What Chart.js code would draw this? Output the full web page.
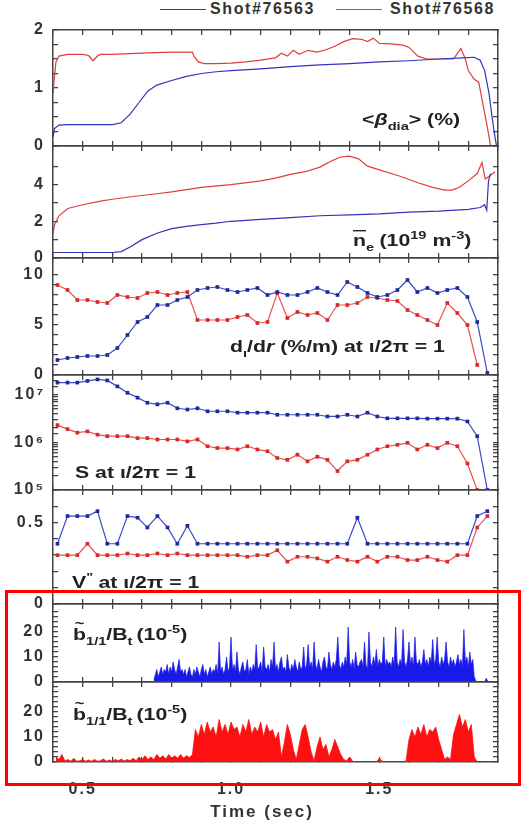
<!DOCTYPE html>
<html>
<head>
<meta charset="utf-8">
<script src="https://cdn.jsdelivr.net/npm/chart.js@4.4.1/dist/chart.umd.min.js"></script>
<style>
  body { margin: 0; background: #fff; }
  #fig { position: relative; width: 523px; height: 829px; overflow: hidden; font-family: "Liberation Sans", Arial, sans-serif; }
  #fig canvas { position: absolute; left: 0; }
  .legLine { position: absolute; top: 9px; width: 46px; height: 0; }
  .legText { position: absolute; top: 0; font-weight: bold; font-size: 16px; line-height: 18px; letter-spacing: 1.6px; color: #333; }
  #mark { position: absolute; left: 5px; top: 590px; width: 516px; height: 196px; box-sizing: border-box; border: 3px solid #f00; }
</style>
</head>
<body>
<div id="fig">
  <div class="legLine" style="left:160px;border-top:1.5px solid #3333bb"></div>
  <div class="legText" style="left:210px">Shot#76563</div>
  <div class="legLine" style="left:336px;border-top:1.5px solid #e03c3c"></div>
  <div class="legText" style="left:390px">Shot#76568</div>
  <canvas id="p1"></canvas>
  <canvas id="p2"></canvas>
  <canvas id="p3"></canvas>
  <canvas id="p4"></canvas>
  <canvas id="p5"></canvas>
  <canvas id="p6"></canvas>
  <canvas id="p7"></canvas>
  <div id="mark"></div>
</div>
<script>
// time axis labels (sec)
const xLabelVals = [0.5, 1.0, 1.5];

// <beta_dia> (%)
const betaT63 = [0.40,0.405,0.42,0.45,0.50,0.55,0.60,0.63,0.66,0.69,0.72,0.75,0.80,0.85,0.90,0.95,1.00,1.10,1.20,1.30,1.40,1.50,1.60,1.70,1.78,1.82,1.84,1.855,1.87,1.88,1.89,1.895];
const betaV63 = [0.15,0.3,0.36,0.37,0.37,0.37,0.37,0.4,0.55,0.75,0.95,1.05,1.13,1.2,1.25,1.28,1.3,1.33,1.37,1.4,1.42,1.45,1.47,1.5,1.52,1.53,1.48,1.3,0.9,0.5,0.15,0];
const betaT68 = [0.40,0.405,0.41,0.42,0.45,0.50,0.52,0.535,0.55,0.56,0.60,0.70,0.80,0.87,0.875,0.89,0.91,0.95,1.00,1.05,1.10,1.15,1.17,1.19,1.21,1.23,1.26,1.29,1.32,1.35,1.38,1.41,1.44,1.46,1.48,1.50,1.54,1.58,1.60,1.63,1.66,1.70,1.75,1.775,1.79,1.80,1.82,1.835,1.85,1.865,1.875];
const betaV68 = [0.9,1.2,1.45,1.55,1.58,1.58,1.56,1.47,1.55,1.58,1.58,1.6,1.62,1.62,1.55,1.45,1.42,1.42,1.43,1.45,1.48,1.52,1.6,1.55,1.65,1.58,1.65,1.62,1.66,1.72,1.8,1.85,1.84,1.8,1.86,1.77,1.76,1.74,1.7,1.55,1.5,1.5,1.5,1.68,1.5,1.3,1.15,1.1,0.7,0.3,0];

// line averaged density (1e19 m^-3)
const neT63 = [0.40,0.45,0.50,0.55,0.60,0.63,0.66,0.70,0.75,0.80,0.85,0.90,0.95,1.00,1.10,1.20,1.30,1.40,1.50,1.60,1.70,1.80,1.84,1.855,1.862,1.868,1.875];
const neV63 = [0.3,0.3,0.3,0.3,0.3,0.35,0.6,1.0,1.35,1.6,1.72,1.82,1.9,2.0,2.1,2.2,2.3,2.35,2.4,2.5,2.55,2.65,2.75,2.9,2.6,4.2,4.6];
const neT68 = [0.40,0.405,0.42,0.45,0.50,0.56,0.60,0.67,0.75,0.80,0.90,1.00,1.10,1.15,1.20,1.25,1.30,1.34,1.37,1.40,1.43,1.46,1.50,1.57,1.63,1.68,1.72,1.745,1.77,1.80,1.83,1.846,1.857,1.87,1.89];
const neV68 = [1.3,1.8,2.3,2.7,2.9,3.1,3.2,3.35,3.5,3.6,3.85,4.0,4.2,4.35,4.55,4.7,4.95,5.3,5.5,5.55,5.4,5.0,4.8,4.45,4.1,3.85,3.7,3.7,3.85,4.2,4.6,5.2,4.3,4.45,4.7];

// profile quantities at iota/2pi = 1
const tProf = [0.415,0.449,0.482,0.516,0.550,0.583,0.617,0.651,0.685,0.718,0.752,0.786,0.819,0.853,0.887,0.921,0.954,0.988,1.022,1.055,1.089,1.123,1.156,1.190,1.224,1.258,1.291,1.325,1.359,1.392,1.426,1.460,1.493,1.527,1.561,1.595,1.628,1.662,1.696,1.729,1.763,1.797,1.830,1.864];
const diotaV63 = [1.5,1.7,1.8,1.9,1.9,2.0,2.7,4.0,5.3,5.8,7.0,7.0,7.5,7.8,8.5,8.7,8.8,8.5,8.3,8.5,8.7,8.0,8.3,8.0,8.0,8.3,8.7,8.3,8.0,9.3,8.8,8.2,7.8,8.0,8.5,9.5,8.3,8.7,8.2,8.5,8.7,7.8,5.3,0.2];
const diotaV68 = [9.0,8.5,7.5,7.5,7.3,7.2,8.0,7.8,7.7,8.2,8.3,8.0,8.2,8.3,5.5,5.5,5.5,5.5,5.8,6.0,5.2,5.3,8.2,5.7,6.3,6.0,6.2,5.5,7.0,7.0,7.2,7.8,7.7,7.5,7.4,6.5,6.0,5.5,5.0,7.2,6.2,5.0,1.0,null];
const sV63 = [1.8e7,1.8e7,1.8e7,1.95e7,2.1e7,2.0e7,1.5e7,1.1e7,8.7e6,6.8e6,6.3e6,6.8e6,5.2e6,4.9e6,5.2e6,4.5e6,4.5e6,4.5e6,4.2e6,4.2e6,4.2e6,4.2e6,3.8e6,3.8e6,3.8e6,3.8e6,3.8e6,3.5e6,3.5e6,3.8e6,3.5e6,4.2e6,3.5e6,3.2e6,3.2e6,3.2e6,3.2e6,3.15e6,3.15e6,3.15e6,3.15e6,2.75e6,1.35e6,1.0e5];
const sV68 = [2.3e6,1.9e6,1.6e6,1.7e6,1.45e6,1.35e6,1.35e6,1.35e6,1.23e6,1.23e6,1.15e6,1.15e6,1.15e6,1.05e6,1.15e6,8.3e5,7.6e5,7.6e5,7.1e5,8.3e5,7.1e5,6.5e5,4.7e5,4.3e5,5.5e5,4.0e5,5.0e5,4.3e5,2.5e5,4.0e5,4.3e5,5.5e5,7.1e5,8.3e5,8.9e5,9.8e5,7.1e5,8.9e5,7.6e5,9.8e5,8.3e5,3.6e5,1.0e5,null];
const vppV63 = [0.37,0.54,0.54,0.54,0.57,0.37,0.37,0.54,0.53,0.47,0.54,0.47,0.37,0.48,0.37,0.37,0.37,0.37,0.37,0.37,0.37,0.37,0.37,0.37,0.37,0.37,0.37,0.37,0.37,0.37,0.53,0.37,0.37,0.37,0.37,0.37,0.37,0.37,0.37,0.37,0.37,0.37,0.54,0.57];
const vppV68 = [0.30,0.30,0.30,0.37,0.30,0.30,0.30,0.31,0.30,0.30,0.31,0.30,0.31,0.30,0.30,0.30,0.30,0.30,0.30,0.29,0.30,0.30,0.33,0.26,0.29,0.29,0.28,0.26,0.29,0.27,0.26,0.29,0.26,0.29,0.29,0.27,0.27,0.29,0.27,0.26,0.30,0.30,0.47,0.54];

// magnetic fluctuation amplitude (1e-5)
// shot 76563: sampled every 5 ms from 0.74 s
const bStart63 = 0.74, bStep63 = 0.005;
const bFluc63 = [
  1,3,5,2,4,6,3,5,4,7,   3,6,4,8,5,3,6,9,4,5,   3,5,2,4,6,3,2,5,3,6,   4,2,5,7,3,5,2,4,6,3,
  5,4,7,3,16,4,6,3,5,10, 4,6,18,5,7,4,12,5,3,6, 8,4,5,9,3,6,4,7,5,15,  5,6,8,4,14,6,5,7,4,9,
  6,16,5,7,4,8,10,5,6,4, 11,6,4,7,5,9,6,4,8,5,  6,14,5,7,15,6,8,5,16,7, 5,9,6,4,8,10,6,5,12,7,
  5,8,6,9,18,7,5,8,6,10, 7,22,8,6,9,5,12,7,6,8,  9,6,16,7,5,20,8,6,10,7, 13,6,9,7,8,18,6,9,7,8,
  6,10,7,22,8,6,9,7,21,8, 6,9,16,7,10,6,18,8,7,9, 6,8,13,7,9,6,10,8,17,7, 9,18,8,6,10,7,9,16,8,6,
  10,7,9,6,8,11,7,9,6,21, 8,10,6,12,7,9,2,0.5,0,0, 0,0,0,0,1.5,0.5,0,0,0,0];
// shot 76568: sampled every 10 ms from 0.41 s
const bStart68 = 0.41, bStep68 = 0.01;
const bFluc68 = [2,1,3,0.5,1,0.3,1.5,0.3,0.5,1,0.3,0.8,0.3,1,0.3,0.5,1.2,0.3,0.8,0.3,1,0.5,1.2,0.4,1,0.5,1.5,0.5,2,0.8,2.5,1,2,1,3,1.5,2.5,1.2,3,1.5,2.5,1.5,3,1.5,2.5,1.8,3,
  13,10,15,11,16,12,14,10,17,12,15,11,16,13,14,10,15,12,17,11,14,12,16,10,15,12,13,9,12,
  2,8,15,11,5,1,7,13,15,10,4,0.5,6,10,5,7,2,5,9,6,3,1,
  0.5,2,0.3,0,0,0,0,0,0,0,0,1.5,0.3,0,0,0,0,0,0,0,0.5,
  9,13,10,14,11,15,10,13,12,14,9,5,1,2,1,11,15,19,14,17,12,15,2,0];

// y tick labels for each panel
const yLabels1 = [0, 1, 2];
const yLabels2 = [0, 2, 4];
const yLabels3 = [0, 5, 10];
const sTickVals = [1e5, 1e6, 1e7];
const sTickText = ['10\u2075', '10\u2076', '10\u2077'];
const yLabels5 = [0, 0.5];
const yLabels6 = [0, 10, 20];
const yLabels7 = [0, 10, 20];

const BLUE = '#3333bb', RED = '#e03c3c';
const BLUE_PT = '#1f2a99', RED_PT = '#d42a2a';
const FONT = '"Liberation Sans", Arial, sans-serif';
const AXIS = '#444', TXT = '#333';
const MARGIN = 25; // room above/below each frame inside its canvas
const STRETCH = 1.33; // the panel captions are drawn wide

const pts = (ts, vs) => ts.map((t, i) => ({ x: t, y: vs[i] }));
const seq = (t0, dt, vs) => vs.map((v, i) => ({ x: t0 + i * dt, y: v }));

function curve(data, color) {
  return { data, borderColor: color, borderWidth: 1.2, pointRadius: 0, tension: 0 };
}
function marked(data, line, pt) {
  return { data, borderColor: line, borderWidth: 1.2, pointRadius: 2.6, pointStyle: 'rect',
           pointBackgroundColor: pt, pointBorderColor: pt, pointBorderWidth: 0, tension: 0 };
}
function filled(data, color, bw) {
  return { data, borderColor: color, backgroundColor: color, borderWidth: bw, pointRadius: 0, fill: 'origin', tension: 0 };
}

function near(list, v) {
  return list.some(l => Math.abs(l - v) < 1e-6);
}

// wider spacing for the axis numbers
const wideText = {
  id: 'wideText',
  beforeDraw(chart) { chart.ctx.letterSpacing = '2px'; }
};

// rich text caption drawn inside a panel
const panelText = {
  id: 'panelText',
  afterDraw(chart, args, opts) {
    if (!opts.parts) return;
    const ctx = chart.ctx;
    ctx.save();
    ctx.letterSpacing = '0px';
    ctx.translate(opts.x, 0);
    ctx.scale(STRETCH, 1);
    ctx.fillStyle = '#222';
    ctx.textBaseline = 'alphabetic';
    let x = 0;
    for (const p of opts.parts) {
      const size = (p.sub || p.sup) ? 11 : 16;
      ctx.font = (p.it ? 'italic ' : '') + 'bold ' + size + 'px ' + FONT;
      const dy = p.sub ? 5 : (p.sup ? -7 : 0);
      ctx.fillText(p.t, x, opts.y + dy);
      const w = ctx.measureText(p.t).width;
      if (p.bar) ctx.fillRect(x, opts.y - 16, w, 1.4);
      if (p.tilde) {
        ctx.font = 'bold 13px ' + FONT;
        ctx.textAlign = 'center';
        ctx.fillText('~', x + w / 2, opts.y - 12);
        ctx.textAlign = 'left';
      }
      x += w + (p.gap || 0);
    }
    ctx.restore();
  }
};

function makePanel(p) {
  const canvas = document.getElementById(p.id);
  const top = p.top - MARGIN;
  const bottomSpace = p.last ? 65 : MARGIN;
  canvas.width = 523;
  canvas.height = p.bottom - p.top + MARGIN + bottomSpace;
  canvas.style.top = top + 'px';

  const tickFont = { family: FONT, size: 16, weight: 'bold' };
  // negative tick length puts the tick marks inside the frame
  const grid = { drawOnChartArea: false, tickLength: -5, color: AXIS, lineWidth: 1.3 };
  const border = { display: true, color: AXIS, width: 1.5 };

  const xScale = (pos, labels) => ({
    axis: 'x', type: 'linear', position: pos, min: 0.4, max: 1.9,
    grid, border,
    ticks: {
      stepSize: 0.1, autoSkip: false, maxRotation: 0, padding: 23,
      font: tickFont, color: TXT,
      callback: labels ? (v) => {
        const r = Math.round(v * 10) / 10;
        return near(xLabelVals, v) ? r.toFixed(1) : '';
      } : () => ''
    },
    title: labels ? { display: true, text: 'Time (sec)\u00a0\u00a0\u00a0\u00a0', color: TXT,
                      font: { family: FONT, size: 17, weight: 'bold' }, padding: { top: 2, bottom: 4 } }
                  : { display: false },
    afterFit: (s) => { s.height = (pos === 'bottom') ? bottomSpace : MARGIN; }
  });

  const yScale = (pos, labels) => {
    const s = {
      axis: 'y', type: p.log ? 'logarithmic' : 'linear', position: pos,
      min: p.min, max: p.max, grid, border,
      ticks: { autoSkip: false, padding: 13, font: tickFont, color: TXT,
               callback: labels ? p.fmt : () => '' },
      afterFit: (sc) => { sc.width = pos === 'left' ? 53 : 25; }
    };
    if (!p.log) s.ticks.stepSize = p.step;
    return s;
  };

  new Chart(canvas, {
    type: 'line',
    data: { datasets: p.datasets },
    options: {
      responsive: false,
      animation: false,
      devicePixelRatio: 1,
      layout: { padding: 0 },
      plugins: {
        legend: { display: false },
        tooltip: { enabled: false },
        panelText: { x: p.label.x, y: p.label.y - top, parts: p.label.parts }
      },
      scales: {
        x: xScale('bottom', !!p.last),
        xTop: xScale('top', false),
        y: yScale('left', true),
        yRight: yScale('right', false)
      }
    },
    plugins: [wideText, panelText]
  });
}

const linFmt = (labels) => (v) => near(labels, v) ? String(Math.round(v * 100) / 100) : '';
const iota = [{ t: 'at ' }, { t: '\u03b9' }, { t: '/2\u03c0 = 1' }];
const bLabel = [{ t: 'b', tilde: true }, { t: '1/1', sub: true }, { t: '/B' }, { t: 't', sub: true, gap: 3 }, { t: '(10' }, { t: '-5', sup: true }, { t: ')' }];

makePanel({
  id: 'p1', top: 30, bottom: 146, min: 0, max: 2, step: 0.25, fmt: linFmt(yLabels1),
  datasets: [curve(pts(betaT63, betaV63), BLUE), curve(pts(betaT68, betaV68), RED)],
  label: { x: 362, y: 125, parts: [{ t: '<' }, { t: '\u03b2', it: true }, { t: 'dia', sub: true }, { t: '> (%)' }] }
});
makePanel({
  id: 'p2', top: 146, bottom: 258, min: 0, max: 6.1, step: 1, fmt: linFmt(yLabels2),
  datasets: [curve(pts(neT63, neV63), BLUE), curve(pts(neT68, neV68), RED)],
  label: { x: 353, y: 246, parts: [{ t: 'n', bar: true }, { t: 'e', sub: true, gap: 4 }, { t: '(10' }, { t: '19', sup: true }, { t: ' m' }, { t: '-3', sup: true }, { t: ')' }] }
});
makePanel({
  id: 'p3', top: 258, bottom: 375, min: 0, max: 11.7, step: 1, fmt: linFmt(yLabels3),
  datasets: [marked(pts(tProf, diotaV63), '#3a48c8', BLUE_PT), marked(pts(tProf, diotaV68), '#e85050', RED_PT)],
  label: { x: 230, y: 352, parts: [{ t: 'd' }, { t: '\u03b9', sub: true }, { t: '/d' }, { t: 'r', it: true }, { t: ' (%/m) ' }].concat(iota) }
});
makePanel({
  id: 'p4', top: 375, bottom: 490, min: 1e5, max: 2.6e7, log: true,
  fmt: (v) => { const k = sTickVals.findIndex(t => Math.abs(t - v) / t < 1e-6); return k >= 0 ? sTickText[k] : ''; },
  datasets: [marked(pts(tProf, sV63), '#3a48c8', BLUE_PT), marked(pts(tProf, sV68), '#e85050', RED_PT)],
  label: { x: 75, y: 478, parts: [{ t: 'S ' }].concat(iota) }
});
makePanel({
  id: 'p5', top: 490, bottom: 604, min: 0, max: 0.7, step: 0.1, fmt: linFmt(yLabels5),
  datasets: [marked(pts(tProf, vppV63), '#3a48c8', BLUE_PT), marked(pts(tProf, vppV68), '#e85050', RED_PT)],
  label: { x: 72, y: 588, parts: [{ t: 'V' }, { t: '"', sup: true, gap: 4 }].concat(iota) }
});
makePanel({
  id: 'p6', top: 604, bottom: 682, min: 0, max: 31.2, step: 2, fmt: linFmt(yLabels6),
  datasets: [filled(seq(bStart63, bStep63, bFluc63), '#1a1ae8', 0.7)],
  label: { x: 73, y: 640, parts: bLabel }
});
makePanel({
  id: 'p7', top: 682, bottom: 762, min: 0, max: 32, step: 2, fmt: linFmt(yLabels7), last: true,
  datasets: [filled(seq(bStart68, bStep68, bFluc68), '#ff1010', 0.8)],
  label: { x: 73, y: 720, parts: bLabel }
});
</script>
</body>
</html>
